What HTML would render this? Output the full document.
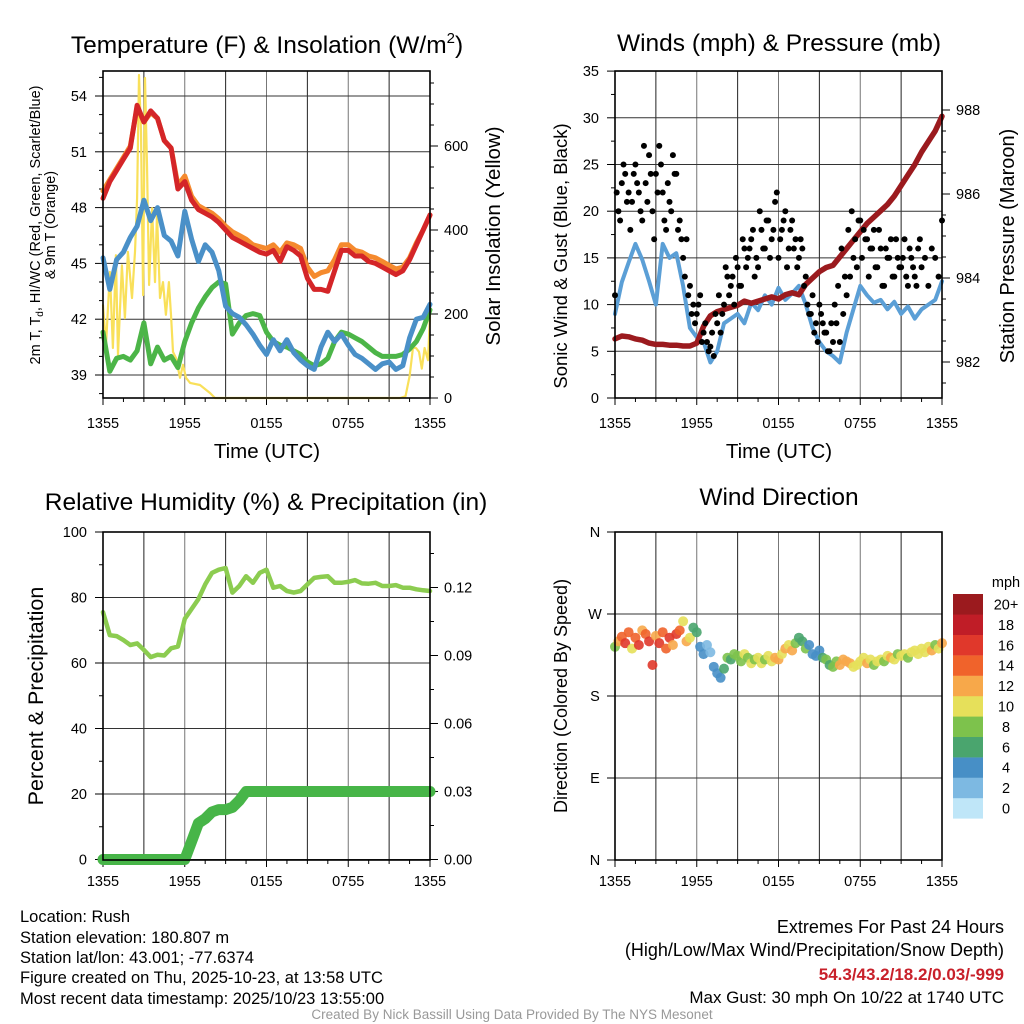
<!DOCTYPE html>
<html><head><meta charset="utf-8">
<style>
html,body{margin:0;padding:0;background:#fff;}
svg{display:block;font-family:"Liberation Sans",Arial,sans-serif;}
</style></head>
<body>
<svg id="fig" width="1024" height="1024" viewBox="0 0 1024 1024" xmlns="http://www.w3.org/2000/svg">
<rect width="1024" height="1024" fill="#fff"/>
<g id="layer"></g>
<text x="267" y="53" font-size="24.5" text-anchor="middle">Temperature (F) &amp; Insolation (W/m<tspan dy="-10" font-size="15">2</tspan><tspan dy="10">)</tspan></text>
<text x="779" y="51" font-size="24.5" text-anchor="middle">Winds (mph) &amp; Pressure (mb)</text>
<text x="266" y="510" font-size="24.5" text-anchor="middle">Relative Humidity (%) &amp; Precipitation (in)</text>
<text x="779" y="505" font-size="24.5" text-anchor="middle">Wind Direction</text>
<text x="267" y="458" font-size="20.5" text-anchor="middle">Time (UTC)</text>
<text x="779" y="458" font-size="20.5" text-anchor="middle">Time (UTC)</text>
<g font-size="14.5" text-anchor="middle">
<text transform="translate(40,225) rotate(-90)">2m T, T<tspan dy="3" font-size="10">d</tspan><tspan dy="-3">, HI/WC (Red, Green, Scarlet/Blue)</tspan></text>
<text transform="translate(55,225) rotate(-90)">&amp; 9m T (Orange)</text>
</g>
<text transform="translate(500,236) rotate(-90)" font-size="20.5" text-anchor="middle">Solar Insolation (Yellow)</text>
<text transform="translate(567,256) rotate(-90)" font-size="18.5" text-anchor="middle">Sonic Wind &amp; Gust (Blue, Black)</text>
<text transform="translate(1014,246) rotate(-90)" font-size="20" text-anchor="middle">Station Pressure (Maroon)</text>
<text transform="translate(43,696) rotate(-90)" font-size="21.5" text-anchor="middle">Percent &amp; Precipitation</text>
<text transform="translate(567,696) rotate(-90)" font-size="18" text-anchor="middle">Direction (Colored By Speed)</text>
<g font-size="16.5">
<text x="20" y="922">Location: Rush</text>
<text x="20" y="943">Station elevation: 180.807 m</text>
<text x="20" y="963">Station lat/lon: 43.001; -77.6374</text>
<text x="20" y="983">Figure created on Thu, 2025-10-23, at 13:58 UTC</text>
<text x="20" y="1004">Most recent data timestamp: 2025/10/23 13:55:00</text>
</g>
<g font-size="18" text-anchor="end">
<text x="1004" y="933">Extremes For Past 24 Hours</text>
<text x="1004" y="956">(High/Low/Max Wind/Precipitation/Snow Depth)</text>
<text x="1004" y="980" fill="#c8202a" font-weight="bold" font-size="17">54.3/43.2/18.2/0.03/-999</text>
<text x="1004" y="1003" font-size="17">Max Gust: 30 mph On 10/22 at 1740 UTC</text>
</g>
<text x="512" y="1019" font-size="13.5" fill="#999" text-anchor="middle">Created By Nick Bassill Using Data Provided By The NYS Mesonet</text>
</svg>
<script>
// ---- data (30-minute steps unless noted) ----
const timeLabels = ["1355","1955","0155","0755","1355"];
const tempRed = [48.5,49.4,50.0,50.6,51.2,53.5,52.6,53.2,52.8,51.6,51.2,49.0,49.4,48.4,47.9,47.7,47.5,47.2,46.8,46.4,46.2,46.0,45.8,45.6,45.5,45.7,45.1,45.9,45.7,45.4,44.2,43.6,43.6,43.5,44.6,45.7,45.7,45.4,45.4,45.1,45.0,44.8,44.6,44.4,44.6,45.2,46.0,46.8,47.6];
const tempOrange = [48.9,49.5,50.1,50.7,51.3,53.4,52.6,53.1,52.8,51.6,51.2,49.2,49.7,48.6,48.1,47.9,47.7,47.4,47.0,46.7,46.5,46.3,46.0,45.9,45.8,46.0,45.6,46.1,46.0,45.8,44.8,44.3,44.5,44.6,45.2,46.0,46.0,45.7,45.6,45.4,45.3,45.1,44.9,44.7,44.8,45.3,46.1,46.8,47.6];
const windChill = [45.3,43.6,45.2,45.6,46.4,47.0,48.4,47.3,48.0,46.5,46.2,45.4,47.8,46.3,45.1,46.0,45.6,44.6,42.7,42.3,42.1,41.7,41.2,40.6,40.1,40.9,40.3,40.9,40.2,39.8,39.5,39.3,40.5,41.3,40.8,41.2,40.6,40.1,39.9,39.6,39.3,39.6,39.7,39.3,39.5,41.0,42.0,42.1,42.8];
const dewPoint = [41.3,39.2,39.9,40.0,39.8,40.3,41.8,39.6,40.5,39.8,40.0,39.4,40.8,41.8,42.6,43.2,43.7,44.0,43.9,41.2,41.8,42.2,42.3,42.2,41.3,40.8,40.6,40.5,40.3,40.1,39.7,39.5,39.6,39.9,40.8,41.3,41.2,41.0,40.8,40.5,40.2,40.0,40.0,40.0,40.1,40.4,40.8,41.5,42.5];
const solarHours = [0,0.22,0.51,0.73,0.95,1.1,1.39,1.61,1.83,2.13,2.35,2.5,2.64,2.79,2.94,3.08,3.23,3.38,3.6,3.82,3.96,4.18,4.4,4.62,4.84,4.99,5.14,5.36,5.65,5.87,6.09,6.39,7.12,7.85,8.22,21.8,22.2,22.5,22.75,22.97,23.19,23.4,23.6,23.85,24];
const solarValues = [221,126,300,119,340,102,316,190,348,238,348,476,769,633,245,762,555,269,452,276,440,238,276,198,276,198,110,95,48,79,48,36,31,12,0,0,4,52,120,119,110,70,119,90,198];
const windSpeed = [9,12.4,14.5,16.5,14.8,12.5,10.0,16.5,15.0,15.5,12.0,7.5,6.5,6.0,3.8,5.0,8.0,8.5,9.0,8.0,10.2,9.4,11.0,10.0,11.8,10.5,11.2,12.0,10.0,7.5,6.0,5.0,4.5,3.8,7.0,9.5,12.0,11.0,10.2,10.5,9.5,10.3,9.0,9.8,8.5,9.5,10.0,10.5,12.5];
const pressure = [982.55,982.62,982.6,982.55,982.52,982.45,982.42,982.42,982.4,982.4,982.38,982.38,982.45,982.85,983.1,983.2,983.25,983.3,983.35,983.45,983.4,983.45,983.5,983.55,983.5,983.6,983.65,983.6,983.85,984.0,984.15,984.25,984.3,984.5,984.7,984.9,985.1,985.3,985.45,985.6,985.75,985.95,986.2,986.45,986.7,987.0,987.25,987.5,987.85];
// gusts: 15-minute steps, plus a second set offset by 7.5 min
const gustA = [11,20,23,24,22,21,25,22,19,23,26,20,24,27,22,18,21,26,24,19,15,17,12,10,9,11,7,6,5.5,4.5,8,7,10,13,12,10,14,12,16,15,17,13,14,18,16,19,17,21,15,18,20,16,19,17,15,16,13,9,11,8,10,8,7,5,6,8,6,9,11,13,15,14,19,18,17,16,18,14,16,12,15,17,13,15,14,17,12,15,13,16,14,15,12,16,15,13,19];
const gustB = [22,19,25,21,18,24,23,20,27,21,24,17,22,25,19,23,20,24,18,17,13,11,9,8,10,6,8,5,7,9,11,9,14,11,13,15,12,17,14,16,18,15,20,16,19,15,18,22,17,19,14,18,16,14,17,12,10,9,7,6,9,7,5,8,10,12,16,13,18,20,17,19,15,17,13,16,14,18,12,16,15,13,17,14,15,13,16,14,12,17];
const relHumidity = [75.5,68.5,68.2,67,65.5,66,64,61.8,62.5,62.3,64.5,65,73.5,76.5,79.5,84,87.5,88.5,89,81.5,83.5,86.5,84.5,87.5,88.5,83,83.5,82,81.5,82,84,86,86.3,86.5,84.5,84.5,84.8,85.3,84.3,84.2,84.5,83.5,83.5,83.8,83,83,82.5,82.2,82];
const precip = [0,0,0,0,0,0,0,0,0,0,0,0,0,0.008,0.016,0.018,0.021,0.022,0.022,0.023,0.026,0.03,0.03,0.03,0.03,0.03,0.03,0.03,0.03,0.03,0.03,0.03,0.03,0.03,0.03,0.03,0.03,0.03,0.03,0.03,0.03,0.03,0.03,0.03,0.03,0.03,0.03,0.03,0.03];
// wind direction: 15-minute steps
const windDir = [234,240,245,238,250,232,244,236,252,248,240,214,246,238,250,232,244,236,248,252,262,240,244,255,250,234,226,236,228,212,205,200,210,222,220,226,224,218,226,222,216,220,222,216,220,224,218,222,220,226,232,236,230,238,244,240,232,236,226,224,230,222,220,214,212,218,214,220,218,216,212,214,218,222,216,220,214,218,220,218,224,222,220,226,224,226,222,228,230,226,232,228,234,230,236,232,238];
const dirSpeed = [8,12,15,17,14,11,15,16,12,14,16,17,13,17,15,14,16,12,16,14,10,12,11,6,7,5,4,3,2,4,4,4,6,8,7,8,9,8,10,9,10,8,10,11,9,10,11,12,12,11,12,10,12,9,7,6,8,5,4,4,5,6,8,7,8,9,12,13,12,12,10,11,10,11,12,10,9,10,10,9,11,12,10,9,10,11,8,10,11,10,10,11,10,12,9,11,12];
const speedLabels = ["0","2","4","6","8","10","12","14","16","18","20+"];
const speedColors = ["#bfe6f8","#7db9e2","#478fc6","#4aa56e","#7dc24c","#e6e05a","#f7a84a","#f0632b","#e0382b","#c01d27","#9b1a1e"];

const NS="http://www.w3.org/2000/svg";
const layer=document.getElementById('layer');
function mk(tag,attrs,parent){const e=document.createElementNS(NS,tag);for(const k in attrs)e.setAttribute(k,attrs[k]);(parent||layer).appendChild(e);return e;}
function txt(x,y,s,size,anchor,parent){const t=mk('text',{x:x,y:y,'font-size':size,'text-anchor':anchor},parent);t.textContent=s;return t;}

const P1={x0:103,x1:430,y0:71,y1:398};
const P2={x0:615,x1:942,y0:71,y1:398};
const P3={x0:103,x1:430,y0:532,y1:860};
const P4={x0:615,x1:942,y0:532,y1:860};
const xs=(P,h)=>P.x0+(P.x1-P.x0)*h/24;
const yT=t=>96+(54-t)*18.6;
const ySol=w=>398-w*0.42;
const yW=v=>398-v*9.34;
const yP=p=>362-(p-982)*42;
const yRH=r=>859.5-r*3.275;
const yPr=p=>859.5-p*2266.7;
const yD=d=>860-d*328/360;

function frame(P,name,hGrid,labY){
  const g=mk('g',{});
  
  
  for(let h=3;h<24;h+=3){const x=xs(P,h);mk('line',{x1:x,x2:x,y1:P.y0,y2:P.y1,stroke:(h%6==0)?'#777':'#222','stroke-width':1},g);}
  hGrid.forEach(y=>mk('line',{x1:P.x0,x2:P.x1,y1:y,y2:y,stroke:'#333','stroke-width':1},g));
  const xa=mk('g',{});
  
  
  for(let h=0;h<=24;h+=1.5){const x=xs(P,h);const maj=(h%6==0);mk('line',{x1:x,x2:x,y1:P.y1,y2:P.y1+(maj?7:4),stroke:'#000','stroke-width':1},xa);}
  timeLabels.forEach((s,i)=>txt(xs(P,i*6),labY,s,14.5,'middle',xa));
}
function border(P,name){const r=mk('rect',{x:P.x0,y:P.y0,width:P.x1-P.x0,height:P.y1-P.y0,fill:'none',stroke:'#000','stroke-width':1.6});}
function yaxis(P,side,vals,fy,fmt,minor,name){
  const g=mk('g',{});
  
  
  const x=side=='l'?P.x0:P.x1, d=side=='l'?-1:1;
  vals.forEach(v=>{const y=fy(v);mk('line',{x1:x,x2:x+d*8,y1:y,y2:y,stroke:'#000'},g);txt(x+d*(side=='l'?16:14),y+5,fmt(v),14.5,side=='l'?'end':'start',g);});
  minor.forEach(v=>{const y=fy(v);if(y>=P.y0&&y<=P.y1)mk('line',{x1:x,x2:x+d*4,y1:y,y2:y,stroke:'#000'},g);});
}
function path(pts,stroke,w,name){const d=pts.map((p,i)=>(i?'L':'M')+p[0].toFixed(1)+','+p[1].toFixed(1)).join('');const e=mk('path',{d:d,fill:'none',stroke:stroke,'stroke-width':w,'stroke-linejoin':'round','stroke-linecap':'round'});return e;}
const step=(P,i)=>xs(P,i*0.5);

// ---- Panel 1 ----
const tTicks=[39,42,45,48,51,54];
frame(P1,'temperature',tTicks.map(yT),428);
yaxis(P1,'l',tTicks,yT,v=>String(v),[38,40,41,43,44,46,47,49,50,52,53,55],'temperature-left-axis');
yaxis(P1,'r',[0,200,400,600],ySol,v=>String(v),[50,100,150,250,300,350,450,500,550,650,700,750],'insolation-right-axis');
path(solarHours.map((h,i)=>[xs(P1,h),ySol(solarValues[i])]),'#f9e05a',2.2,'solar-insolation-line');
path(dewPoint.map((v,i)=>[step(P1,i),yT(v)]),'#4cb548',5,'dewpoint-line');
path(windChill.map((v,i)=>[step(P1,i),yT(v)]),'#4a90c8',5,'wind-chill-line');
path(tempOrange.map((v,i)=>[step(P1,i),yT(v)]),'#f58a2e',5,'temp-9m-line');
path(tempRed.map((v,i)=>[step(P1,i),yT(v)]),'#d42528',5,'temp-2m-line');
border(P1,'temperature');

// ---- Panel 2 ----
const wTicks=[0,5,10,15,20,25,30,35];
frame(P2,'winds',wTicks.map(yW),428);
yaxis(P2,'l',wTicks,yW,v=>String(v),[2.5,7.5,12.5,17.5,22.5,27.5,32.5],'wind-left-axis');
yaxis(P2,'r',[982,984,986,988],yP,v=>String(v),[981.5,982.5,983,983.5,984.5,985,985.5,986.5,987,987.5],'pressure-right-axis');
path(windSpeed.map((v,i)=>[step(P2,i),yW(v)]),'#5b9fd6',4,'sonic-wind-line');
path(pressure.map((v,i)=>[step(P2,i),yP(v)]),'#9b1a1e',5.5,'pressure-line');
const gg=mk('g',{});


gustA.forEach((v,i)=>{const c=mk('circle',{cx:xs(P2,i*0.25),cy:yW(v),r:3,fill:'#000'},gg);});
gustB.forEach((v,i)=>{const c=mk('circle',{cx:xs(P2,i*0.25+0.125),cy:yW(v),r:3,fill:'#000'},gg);});
border(P2,'winds');

// ---- Panel 3 ----
const rhTicks=[0,20,40,60,80,100];
frame(P3,'humidity',rhTicks.map(yRH),886);
yaxis(P3,'l',rhTicks,yRH,v=>String(v),[10,30,50,70,90],'humidity-left-axis');
yaxis(P3,'r',[0,0.03,0.06,0.09,0.12],yPr,v=>v.toFixed(2),[0.015,0.045,0.075,0.105,0.135],'precip-right-axis');
path(relHumidity.map((v,i)=>[step(P3,i),yRH(v)]),'#8ccc50',4.5,'humidity-line');
path(precip.map((v,i)=>[step(P3,i),yPr(v)]),'#47b548',11,'precipitation-line');
border(P3,'humidity');

// ---- Panel 4 ----
const dTicks=[0,90,180,270,360];
const dLabels=["N","E","S","W","N"];
frame(P4,'direction',dTicks.map(yD),886);
const dg=mk('g',{});


dTicks.forEach((d,i)=>{const y=yD(d);mk('line',{x1:P4.x0,x2:P4.x0-8,y1:y,y2:y,stroke:'#000'},dg);txt(P4.x0-20,y+5,dLabels[i],14.5,'middle',dg);});
const pg=mk('g',{});


windDir.forEach((d,i)=>{const k=Math.min(10,Math.max(0,Math.floor(dirSpeed[i]/2)));const c=mk('circle',{cx:xs(P4,i*0.25),cy:yD(d),r:5,fill:speedColors[k],'fill-opacity':0.9},pg);});
border(P4,'direction');

// colorbar
const cb=mk('g',{});


txt(1006,587,'mph',14.5,'middle',cb);
speedColors.forEach((c,i)=>{const y=798-i*20.4;const r=mk('rect',{x:953,y:y,width:30,height:20.6,fill:c},cb);txt(1006,y+15.5,speedLabels[i],14.5,'middle',cb);});
</script>
</body></html>
